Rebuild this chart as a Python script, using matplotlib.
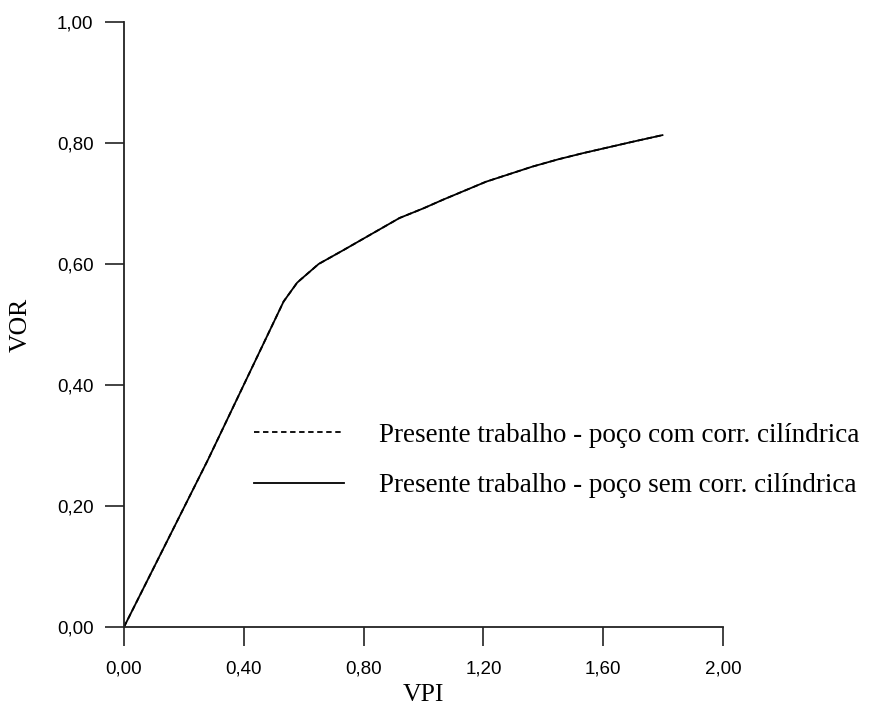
import matplotlib
matplotlib.use("Agg")
import matplotlib.pyplot as plt
from matplotlib.ticker import FuncFormatter

# VPI x VOR
vpi = [0.0, 0.28, 0.533, 0.578, 0.587, 0.65, 0.733, 0.80, 0.92, 1.0,
       1.064, 1.209, 1.364, 1.45, 1.531, 1.698, 1.798]
vor_com = [0.0, 0.276, 0.538, 0.569, 0.573, 0.600, 0.623, 0.642, 0.676,
           0.692, 0.706, 0.736, 0.761, 0.773, 0.783, 0.802, 0.813]
vor_sem = [0.0, 0.276, 0.538, 0.569, 0.573, 0.600, 0.623, 0.642, 0.676,
           0.692, 0.706, 0.736, 0.761, 0.773, 0.783, 0.802, 0.813]

label_com = 'Presente trabalho - poço com corr. cilíndrica'
label_sem = 'Presente trabalho - poço sem corr. cilíndrica'
xticks = [0.0, 0.4, 0.8, 1.2, 1.6, 2.0]
yticks = [0.0, 0.2, 0.4, 0.6, 0.8, 1.0]

serif = 'Liberation Serif'
sans = 'Liberation Sans'

fig = plt.figure(figsize=(8.72, 7.07), dpi=100)
ax = fig.add_axes([0.1422, 0.1132, 0.6869, 0.8557])

ax.plot(vpi, vor_com, color='black', linestyle=(0, (3, 2)), linewidth=1.3,
        label=label_com)
ax.plot(vpi, vor_sem, color='black', linestyle='-', linewidth=1.3,
        label=label_sem)

ax.set_xlim(0, 2.0)
ax.set_ylim(0, 1.0)
ax.set_xticks(xticks)
ax.set_yticks(yticks)
fmt = FuncFormatter(lambda v, p: f'{v:.2f}'.replace('.', ','))
ax.xaxis.set_major_formatter(fmt)
ax.yaxis.set_major_formatter(fmt)

for s in ['top', 'right']:
    ax.spines[s].set_visible(False)
for s in ['left', 'bottom']:
    ax.spines[s].set_color('#222222')
    ax.spines[s].set_linewidth(1.3)

ax.tick_params(axis='both', direction='out', length=14, width=1.2,
               color='#222222', labelsize=13.5)
ax.tick_params(axis='x', pad=10)
ax.tick_params(axis='y', pad=8)
for lab in ax.get_xticklabels() + ax.get_yticklabels():
    lab.set_fontfamily(sans)

ax.set_xlabel('VPI', fontfamily=serif, fontsize=18.5, labelpad=5)
ax.set_ylabel('VOR', fontfamily=serif, fontsize=18.5, labelpad=18)

ax.legend(loc='center left', bbox_to_anchor=(0.195, 0.275), frameon=False,
          prop={'family': serif, 'size': 19.5}, handlelength=3.3,
          handletextpad=1.3, labelspacing=0.95, borderpad=0)

plt.savefig('out.png', dpi=100)
